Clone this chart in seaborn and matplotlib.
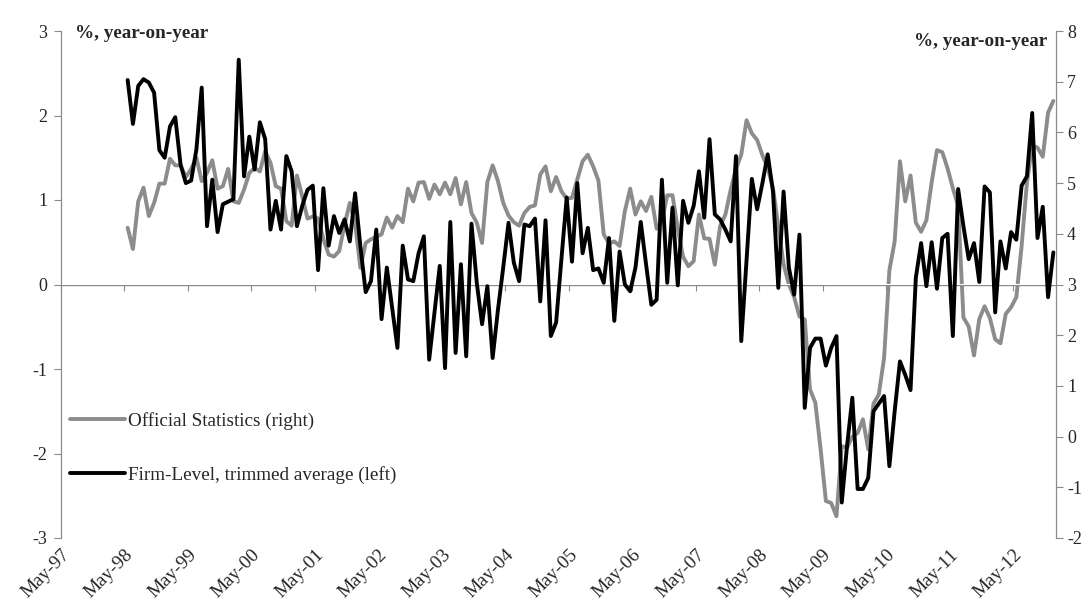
import numpy as np
import pandas as pd
import matplotlib
matplotlib.use("Agg")
import matplotlib.pyplot as plt
import seaborn as sns

# ---- data ----
# Firm-level trimmed average, % y/y (left axis), monthly
firm_level = [
    2.42, 1.90, 2.35, 2.43, 2.39, 2.27, 1.59, 1.50, 1.87, 1.98,
    1.42, 1.20, 1.23, 1.60, 2.33, 0.69, 1.24, 0.62, 0.95, 0.98,
    1.01, 2.66, 1.28, 1.75, 1.36, 1.92, 1.72, 0.65, 0.99, 0.65,
    1.52, 1.34, 0.69, 0.93, 1.12, 1.17, 0.17, 1.14, 0.46, 0.81,
    0.61, 0.77, 0.51, 1.08, 0.45, -0.09, 0.04, 0.65, -0.41, 0.20,
    -0.28, -0.75, 0.46, 0.06, 0.04, 0.37, 0.57, -0.89, -0.33, 0.22,
    -0.99, 0.74, -0.81, 0.24, -0.85, 0.72, 0.02, -0.47, -0.02, -0.87,
    -0.30, 0.20, 0.73, 0.26, 0.04, 0.71, 0.69, 0.78, -0.20, 0.76,
    -0.61, -0.45, 0.30, 1.03, 0.27, 1.20, 0.37, 0.67, 0.17, 0.19,
    0.02, 0.55, -0.43, 0.39, 0.00, -0.08, 0.20, 0.74, 0.24, -0.24,
    -0.18, 1.24, 0.02, 0.91, -0.01, 0.99, 0.73, 0.93, 1.34, 0.79,
    1.72, 0.83, 0.77, 0.65, 0.51, 1.52, -0.67, 0.30, 1.25, 0.89,
    1.20, 1.54, 1.10, -0.04, 1.10, 0.20, -0.12, 0.59, -1.46, -0.75,
    -0.64, -0.64, -0.96, -0.75, -0.61, -2.58, -1.91, -1.34, -2.42, -2.42,
    -2.29, -1.50, -1.41, -1.32, -2.15, -1.50, -0.91, -1.07, -1.25, 0.08,
    0.49, -0.02, 0.50, -0.05, 0.55, 0.60, -0.61, 1.13, 0.69, 0.30,
    0.49, 0.03, 1.16, 1.09, -0.33, 0.51, 0.19, 0.62, 0.53, 1.17,
    1.28, 2.03, 0.55, 0.92, -0.15, 0.38,
]

# Official statistics, % y/y (right axis), monthly
official = [
    4.12, 3.70, 4.64, 4.91, 4.35, 4.61, 4.99, 4.99, 5.48, 5.35,
    5.35, 5.12, 5.28, 5.50, 5.04, 5.20, 5.45, 4.89, 4.94, 5.28,
    4.64, 4.61, 4.87, 5.20, 5.30, 5.23, 5.63, 5.40, 4.94, 4.89,
    4.25, 4.16, 5.15, 4.74, 4.30, 4.34, 4.30, 3.90, 3.59, 3.55,
    3.66, 4.18, 4.61, 4.20, 3.33, 3.82, 3.89, 3.94, 3.99, 4.32,
    4.12, 4.35, 4.23, 4.89, 4.64, 5.01, 5.02, 4.69, 4.97, 4.78,
    5.01, 4.78, 5.10, 4.58, 5.02, 4.41, 4.22, 3.82, 5.02, 5.35,
    5.04, 4.61, 4.36, 4.23, 4.16, 4.41, 4.53, 4.56, 5.17, 5.33,
    4.84, 5.12, 4.84, 4.69, 4.71, 5.07, 5.43, 5.56, 5.33, 5.05,
    3.99, 3.81, 3.85, 3.76, 4.45, 4.89, 4.38, 4.64, 4.45, 4.73,
    4.10, 4.25, 4.76, 4.76, 4.10, 3.55, 3.36, 3.46, 4.38, 3.91,
    3.90, 3.39, 4.15, 4.38, 4.87, 5.28, 5.56, 6.24, 5.98, 5.85,
    5.55, 5.30, 4.90, 4.15, 3.40, 3.00, 2.75, 2.37, 2.31, 0.93,
    0.67, -0.25, -1.27, -1.31, -1.57, -0.19, -0.22, 0.00, 0.07, 0.34,
    -0.25, 0.65, 0.83, 1.55, 3.28, 3.85, 5.43, 4.64, 5.15, 4.22,
    4.04, 4.27, 5.02, 5.65, 5.61, 5.29, 4.90, 4.55, 2.35, 2.17,
    1.60, 2.32, 2.57, 2.34, 1.92, 1.84, 2.42, 2.55, 2.75, 3.76,
    5.00, 5.74, 5.70, 5.52, 6.39, 6.62,
]

tick_labels = ["May-97", "May-98", "May-99", "May-00", "May-01", "May-02",
               "May-03", "May-04", "May-05", "May-06", "May-07", "May-08",
               "May-09", "May-10", "May-11", "May-12"]
first_month_offset = 12.6   # months after May-97 of the first observation

label_official = "Official Statistics (right)"
label_firm = "Firm-Level, trimmed average (left)"
unit_text = "%, year-on-year"

# ---- build frame ----
months = first_month_offset + np.arange(len(firm_level))
df = pd.DataFrame({"month": months, "firm": firm_level, "official": official})

sns.set_style("white")
plt.rcParams["font.family"] = ["Liberation Serif", "DejaVu Serif"]
plt.rcParams["axes.unicode_minus"] = False

GREY_AX = "#8a8a8a"
GREY_LINE = "#8c8c8c"
FS = 13.75
FS_Y = 13

fig = plt.figure(figsize=(10.9, 6.13), dpi=100)
ax = fig.add_axes([61 / 1090, 1 - 538 / 613, (1056 - 61) / 1090, (538 - 31) / 613])
ax2 = ax.twinx()

sns.lineplot(data=df, x="month", y="official", ax=ax2, color=GREY_LINE,
             linewidth=2.8, label=label_official, legend=False)
sns.lineplot(data=df, x="month", y="firm", ax=ax, color="black",
             linewidth=2.8, label=label_firm, legend=False)

# black line drawn above grey
ax.set_zorder(ax2.get_zorder() + 1)
ax.patch.set_visible(False)

# axes limits and ticks
ax.set_xlim(0, 188.1)
ax.set_ylim(-3, 3)
ax2.set_ylim(-2, 8)
ax.set_yticks(range(-3, 4))
ax2.set_yticks(range(-2, 9))
xt = np.arange(0, 12 * len(tick_labels), 12)
ax.set_xticks(xt)
ax.set_xticklabels(tick_labels, rotation=45, ha="right", va="top",
                   rotation_mode="anchor", fontsize=FS)
ax.tick_params(axis="x", length=0, pad=6)
ax.tick_params(axis="y", direction="out", length=5, color=GREY_AX, labelsize=FS_Y, pad=5, left=True)
ax2.tick_params(axis="y", direction="out", length=5, color=GREY_AX, labelsize=FS_Y, pad=3, right=True)
ax.set_xlabel("")
ax.set_ylabel("")
ax2.set_ylabel("")

for a in (ax, ax2):
    a.spines["top"].set_visible(False)
    a.spines["bottom"].set_visible(False)
    a.spines["left"].set_color(GREY_AX)
    a.spines["right"].set_color(GREY_AX)
    a.grid(False)

# zero line acting as the category axis, with tick marks
ax.axhline(0, color=GREY_AX, linewidth=1.0, zorder=0)
sec = ax.secondary_xaxis(0.5)
sec.set_xticks(xt)
sec.xaxis.set_ticks_position("bottom")
sec.tick_params(axis="x", direction="out", length=4, color=GREY_AX,
                labelbottom=False, labeltop=False)
for s in sec.spines.values():
    s.set_visible(False)

# unit labels
ax.text(0.014, 0.996, unit_text, transform=ax.transAxes, fontsize=FS,
        fontweight="bold", ha="left", va="center")
ax.text(0.991, 0.980, unit_text, transform=ax.transAxes, fontsize=FS,
        fontweight="bold", ha="right", va="center")

# legend
h2, l2 = ax2.get_legend_handles_labels()
h1, l1 = ax.get_legend_handles_labels()
ax.legend(h2 + h1, l2 + l1, loc="upper left", bbox_to_anchor=(0.009, 0.249),
          frameon=False, fontsize=FS, handlelength=2.9, handletextpad=0.15,
          labelspacing=1.9, borderpad=0, borderaxespad=0)

fig.savefig("out.png", dpi=100, facecolor="white")
